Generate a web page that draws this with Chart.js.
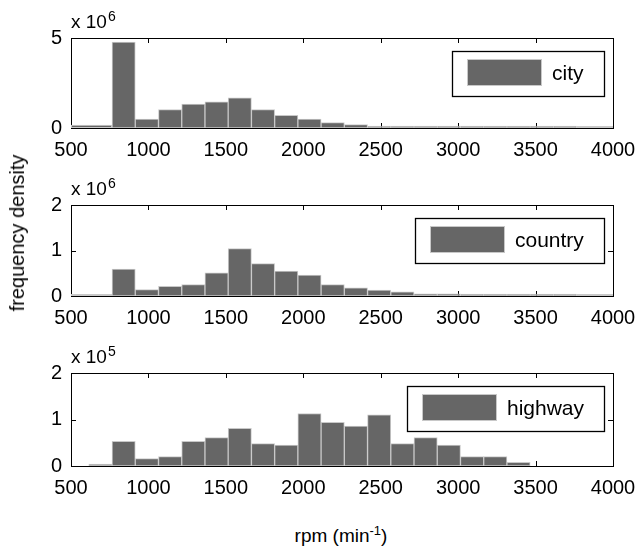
<!DOCTYPE html>
<html><head><meta charset="utf-8">
<script src="https://cdn.jsdelivr.net/npm/chart.js@4.4.0/dist/chart.umd.min.js"></script>
<style>
html,body{margin:0;padding:0;background:#fff;}
#fig{position:relative;width:637px;height:549px;overflow:hidden;font-family:'Liberation Sans',Arial,Helvetica,sans-serif;color:#000;}
.panel{position:absolute;left:0;width:637px;}
.panel canvas{display:block;}
#ylab{position:absolute;left:17px;top:233px;transform:translate(-50%,-50%) rotate(-90deg);font-size:20px;line-height:20px;white-space:nowrap;}
#xlab{position:absolute;left:341px;top:526px;transform:translateX(-50%);font-size:19px;line-height:19px;white-space:nowrap;}
#xlab sup{font-size:13px;line-height:0;vertical-align:0;position:relative;top:-7px;}
</style></head>
<body>
<div id="fig">
  <div class="panel" style="top:0px;height:158px;"><canvas id="c1" width="637" height="158"></canvas></div>
  <div class="panel" style="top:167px;height:159px;"><canvas id="c2" width="637" height="159"></canvas></div>
  <div class="panel" style="top:335px;height:161px;"><canvas id="c3" width="637" height="161"></canvas></div>
  <div id="ylab">frequency density</div>
  <div id="xlab">rpm (min<sup>-1</sup>)</div>
</div>
<script>
// ---- data ----
const xTicks = [500, 1000, 1500, 2000, 2500, 3000, 3500, 4000];

const cityEdges = [500, 765, 915, 1065, 1215, 1365, 1515, 1665, 1815, 1965, 2115, 2265, 2415, 2565, 2715, 2865, 3015, 3165, 3315, 3465, 3615, 3765, 4000];
const cityValues = [0.18, 4.78, 0.50, 1.02, 1.33, 1.46, 1.67, 1.02, 0.70, 0.50, 0.30, 0.19, 0.04, 0.02, 0.02, 0.01, 0.01, 0.01, 0.01, 0.01, 0.01, 0.01];
const cityYTicks = [0, 5];
const cityExponent = 6;

const countryEdges = [500, 765, 915, 1065, 1215, 1365, 1515, 1665, 1815, 1965, 2115, 2265, 2415, 2565, 2715, 2865, 3015, 3165, 3315, 3465, 3615, 3765, 4000];
const countryValues = [0.01, 0.59, 0.14, 0.21, 0.25, 0.51, 1.04, 0.71, 0.55, 0.46, 0.25, 0.18, 0.13, 0.09, 0.045, 0.045, 0.035, 0.01, 0.01, 0.01, 0.01, 0.01];
const countryYTicks = [0, 1, 2];
const countryExponent = 6;

const highwayEdges = [615, 765, 915, 1065, 1215, 1365, 1515, 1665, 1815, 1965, 2115, 2265, 2415, 2565, 2715, 2865, 3015, 3165, 3315, 3465];
const highwayValues = [0, 0.53, 0.16, 0.20, 0.53, 0.61, 0.81, 0.48, 0.45, 1.13, 0.94, 0.86, 1.10, 0.48, 0.61, 0.45, 0.20, 0.20, 0.08];
const highwayYTicks = [0, 1, 2];
const highwayExponent = 5;

// ---- styles ----
const FONT = "'Liberation Sans', Arial, Helvetica, sans-serif";
const FILL = '#666666';
const EDGE = '#c8c8c8';
Chart.defaults.font.family = FONT;
Chart.defaults.font.size = 20;
Chart.defaults.color = '#000';

function buildDatasets(edges, values, label) {
  const widths = values.map((v, i) => edges[i + 1] - edges[i]);
  const unit = Math.min(...widths);
  const groups = new Map();
  values.forEach((v, i) => {
    const w = widths[i];
    if (!groups.has(w)) groups.set(w, []);
    groups.get(w).push({ x: (edges[i] + edges[i + 1]) / 2, y: v });
  });
  return [...groups].map(([w, data]) => ({
    label, data,
    barPercentage: w / unit, categoryPercentage: 1, grouped: false,
    backgroundColor: FILL, borderColor: EDGE, borderWidth: 1,
    borderSkipped: false, minBarLength: 2
  }));
}

const framePlugin = {
  id: 'frame',
  beforeDatasetsDraw(chart) {
    const { ctx, chartArea: a, scales: { x, y } } = chart;
    const TL = 5;
    ctx.save();
    ctx.strokeStyle = '#000';
    ctx.lineWidth = 1;
    ctx.beginPath();
    x.ticks.forEach(t => {
      const px = Math.round(x.getPixelForValue(t.value)) + 0.5;
      if (px <= a.left + 2 || px >= a.right - 2) return;
      ctx.moveTo(px, a.top); ctx.lineTo(px, a.top + TL);
      ctx.moveTo(px, a.bottom); ctx.lineTo(px, a.bottom - TL);
    });
    y.ticks.forEach(t => {
      const py = Math.round(y.getPixelForValue(t.value)) + 0.5;
      if (py <= a.top + 2 || py >= a.bottom - 2) return;
      ctx.moveTo(a.left, py); ctx.lineTo(a.left + TL, py);
      ctx.moveTo(a.right, py); ctx.lineTo(a.right - TL, py);
    });
    ctx.stroke();
    ctx.strokeRect(Math.round(a.left) + 0.5, Math.round(a.top) + 0.5,
                   Math.round(a.right - a.left), Math.round(a.bottom - a.top));
    ctx.restore();
  },
  afterDatasetsDraw(chart) {
    const { ctx, chartArea: a } = chart;
    const label = chart.data.datasets[0].label;
    ctx.save();
    ctx.font = '21px ' + FONT;
    const tw = ctx.measureText(label).width;
    const boxH = 45, padL = 15, swW = 75, swH = 27, gap = 10, padR = 20;
    const boxW = Math.round(padL + swW + gap + tw + padR);
    const right = Math.round(a.right - 9), left = right - boxW, top = Math.round(a.top + 13);
    ctx.fillStyle = '#fff';
    ctx.fillRect(left, top, boxW, boxH);
    ctx.strokeStyle = '#000';
    ctx.lineWidth = 1.3;
    ctx.strokeRect(left + 0.5, top + 0.5, boxW, boxH);
    ctx.fillStyle = FILL;
    ctx.fillRect(left + padL, top + 8, swW, swH);
    ctx.strokeStyle = EDGE;
    ctx.lineWidth = 1;
    ctx.strokeRect(left + padL + 0.5, top + 8.5, swW - 1, swH - 1);
    ctx.fillStyle = '#000';
    ctx.textBaseline = 'alphabetic';
    ctx.textAlign = 'left';
    ctx.fillText(label, left + padL + swW + gap, top + 29);
    ctx.restore();
  },
  afterDraw(chart) {
    const { ctx, chartArea: a } = chart;
    const exp = chart.options.plugins.frame.exponent;
    ctx.save();
    ctx.fillStyle = '#000';
    ctx.textBaseline = 'alphabetic';
    ctx.textAlign = 'left';
    ctx.font = '19px ' + FONT;
    const base = 'x 10';
    ctx.fillText(base, a.left, a.top - 10);
    const w = ctx.measureText(base).width;
    ctx.font = '14px ' + FONT;
    ctx.fillText(String(exp), a.left + w + 1, a.top - 17);
    ctx.restore();
  }
};

function makePanel(id, edges, values, yTicks, exponent, label) {
  return new Chart(document.getElementById(id), {
    type: 'bar',
    data: { datasets: buildDatasets(edges, values, label) },
    plugins: [framePlugin],
    options: {
      responsive: false,
      animation: false,
      layout: { padding: { top: 38, right: 24, bottom: 0, left: 0 } },
      plugins: { legend: { display: false }, tooltip: { enabled: false }, frame: { exponent } },
      scales: {
        x: {
          type: 'linear', min: xTicks[0], max: xTicks[xTicks.length - 1], offset: false,
          grid: { display: false, drawTicks: false, offset: false },
          border: { display: false },
          afterBuildTicks: s => { s.ticks = xTicks.map(v => ({ value: v })); },
          afterFit: s => { s.height = 30; s.paddingLeft = 0; s.paddingRight = 0; },
          ticks: { autoSkip: false, maxRotation: 0, padding: 10, callback: v => String(v) }
        },
        y: {
          type: 'linear', min: yTicks[0], max: yTicks[yTicks.length - 1],
          grid: { display: false, drawTicks: false },
          border: { display: false },
          afterBuildTicks: s => { s.ticks = yTicks.map(v => ({ value: v })); },
          afterFit: s => { s.width = 71; s.paddingTop = 0; s.paddingBottom = 0; },
          ticks: { padding: 9, callback: v => String(v) }
        }
      }
    }
  });
}

makePanel('c1', cityEdges, cityValues, cityYTicks, cityExponent, 'city');
makePanel('c2', countryEdges, countryValues, countryYTicks, countryExponent, 'country');
makePanel('c3', highwayEdges, highwayValues, highwayYTicks, highwayExponent, 'highway');
</script>
</body></html>
